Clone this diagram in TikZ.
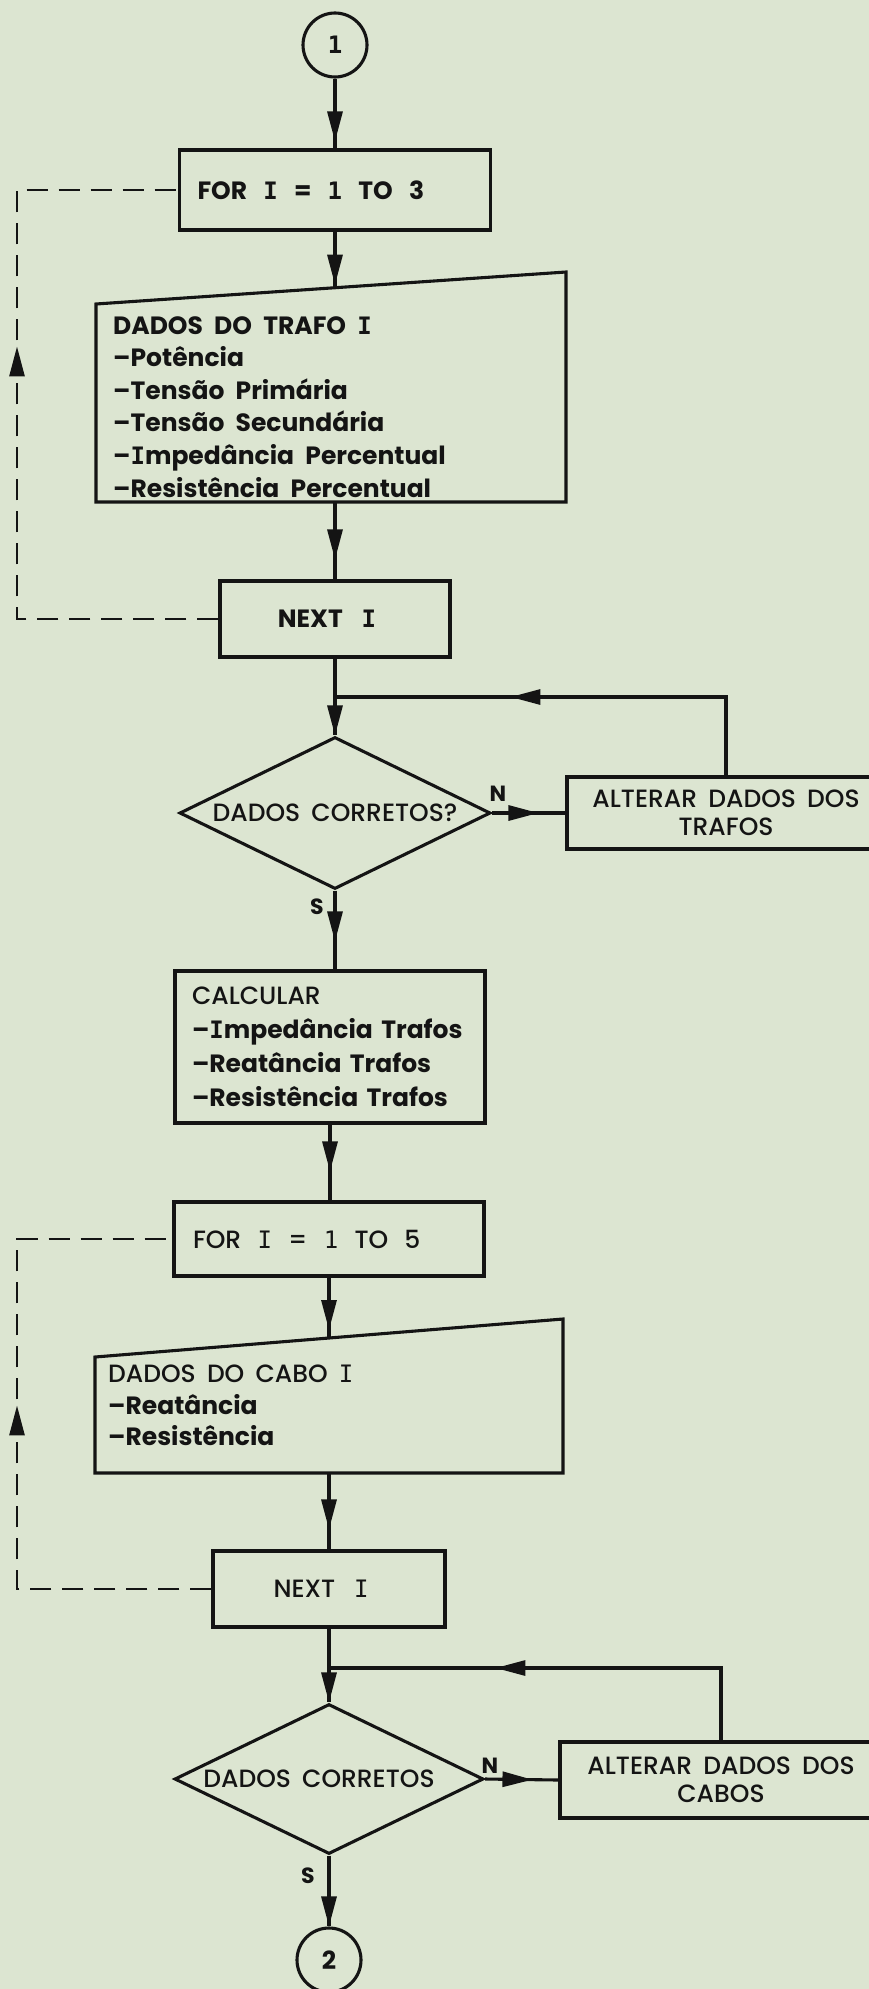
\documentclass[tikz,border=0pt]{standalone}
\usepackage{fontspec}
\setmainfont{Poppins}[UprightFont={* Medium}, BoldFont={* Bold}]
\newfontfamily\serI{DejaVu Sans Mono}[Scale=0.96]
\usetikzlibrary{arrows.meta,decorations.markings,shapes.geometric,calc}
\definecolor{bg}{RGB}{220,229,209}
\definecolor{ink}{RGB}{20,20,20}
\newcommand\Iser{{\serI I}}
\newcommand\Oneser{{\serI 1}}
\newcommand\wgap{\hspace{0.65em}}
\newcommand\fsz{\fontsize{25}{33}\selectfont\spaceskip=0.45em plus 0.1em\relax}
\newcommand\fszb{\fontsize{25}{32.6}\selectfont\bfseries\spaceskip=0.45em plus 0.1em\relax}
\newcommand\fszc{\fontsize{25}{34}\selectfont\spaceskip=0.5em plus 0.1em\relax}
\newcommand\fszd{\fontsize{25}{31.5}\selectfont\spaceskip=0.45em plus 0.1em\relax}
\newcommand\fszalt{\fontsize{25}{28.5}\selectfont\spaceskip=0.45em plus 0.1em\relax}
\begin{document}
\begin{tikzpicture}[x=1pt,y=-1pt,
  every node/.style={text=ink},
  ln/.style={draw=ink, line width=3.1pt, line join=miter},
  dashln/.style={draw=ink, line width=2.7pt, dash pattern=on 21pt off 11pt},
  box/.style={ln, rectangle, inner xsep=18pt, inner ysep=0pt, font=\fsz},
  circ/.style={ln, circle, minimum size=64pt, inner sep=0pt, font=\fontsize{25}{28}\selectfont\bfseries},
  dia/.style={ln, diamond, inner sep=0pt, shape aspect=2.05, font=\fsz},
  txt/.style={inner sep=0pt, align=left},
  lbl/.style={inner sep=0pt, font=\fontsize{22}{26}\selectfont\bfseries},
  am/.style={postaction={decorate,decoration={markings,mark=at position #1 with {\arrow{Triangle[length=30pt,width=15pt]}}}}}
]
\useasboundingbox (0,0) rectangle (869,1989);
\fill[bg] (0,0) rectangle (869,1989);

% ---------- upper part ----------
\node[circ] (c1) at (335,45) {\Oneser};
\node[box, minimum width=311pt, minimum height=80pt, text width=275pt, align=left, font=\fsz\bfseries] (for1) at (335,190)
  {FOR\wgap\Iser\wgap=\wgap\Oneser\wgap TO\wgap 3};

\draw[ln] (96,304) -- (566,272) -- (566,502) -- (96,502) -- cycle;
\coordinate (t1n) at (335,287.7);
\coordinate (t1s) at (335,502);
\node[txt, anchor=north west, font=\fszb] (t1txt) at (113,316)
  {DADOS DO TRAFO \Iser\\ –Potência\\ –Tensão Primária\\ –Tensão Secundária\\ –\Iser mpedância Percentual\\ –Resistência Percentual};

\node[box, minimum width=230pt, minimum height=76pt, font=\fszb] (next1) at (335,619) {NEXT\hspace{0.75em}\Iser\hspace*{16pt}};
\coordinate (j1) at (335,697);
\node[dia, minimum width=311pt, minimum height=152pt] (d1) at (335,813) {DADOS CORRETOS?};
\node[box, minimum width=318pt, minimum height=72pt, inner xsep=0pt, align=center, font=\fszalt] (alt1) at (726,813) {ALTERAR DADOS DOS\\TRAFOS};
\node[lbl] (n1) at (498,794) {N};
\node[lbl] (s1) at (317,907) {S};

\node[box, minimum width=310pt, minimum height=152pt, text width=276pt, inner xsep=17pt, align=left, font=\fszc] (calc) at (330,1047)
  {CALCULAR\\ {\bfseries –\Iser mpedância Trafos}\\ {\bfseries –Reatância Trafos}\\ {\bfseries –Resistência Trafos}};

% ---------- lower part ----------
\node[box, minimum width=310pt, minimum height=74pt, text width=272pt, inner xsep=19pt, align=left, font=\fsz] (for2) at (329,1239)
  {FOR\wgap\Iser\wgap=\wgap\Oneser\wgap TO\wgap 5};

\draw[ln] (95,1357) -- (563,1319) -- (563,1473) -- (95,1473) -- cycle;
\coordinate (t2n) at (329,1338);
\coordinate (t2s) at (329,1473);
\node[txt, anchor=north west, font=\fszd] (t2txt) at (108,1365)
  {DADOS DO CABO \Iser\\ {\bfseries –Reatância}\\ {\bfseries –Resistência}};

\node[box, minimum width=232pt, minimum height=76pt] (next2) at (329,1589) {NEXT\hspace{0.75em}\Iser\hspace*{16pt}};
\coordinate (j2) at (329,1668);
\node[dia, minimum width=309pt, minimum height=150pt] (d2) at (329,1779) {DADOS CORRETOS\hspace*{20pt}};
\node[box, minimum width=322pt, minimum height=76pt, inner xsep=0pt, align=center, font=\fszalt] (alt2) at (721,1780) {ALTERAR DADOS DOS\\CABOS};
\node[lbl] (n2) at (490,1766) {N};
\node[lbl] (s2) at (308,1876) {S};
\node[circ] (c2) at (329,1960) {2};

% ---------- connectors ----------
\draw[ln, am=-7pt] (c1.south) -- (for1.north);
\draw[ln, am=-3pt] (for1.south) -- (t1n);
\draw[ln, am=-20pt] (t1s) -- (next1.north);
\draw[ln, am=1] (next1.south) -- (d1.north);
\draw[ln, am=-27pt] (d1.east) -- (alt1.west);
\draw[ln, am=294pt] (alt1.north) |- (j1);
\draw[ln, am=-28pt] (d1.south) -- (d1.south |- calc.north);
\draw[ln, am=-29pt] (calc.south) -- (calc.south |- for2.north);
\draw[ln, am=-8pt] (for2.south) -- (t2n);
\draw[ln, am=-20pt] (t2s) -- (next2.north);
\draw[ln, am=1] (next2.south) -- (d2.north);
\draw[ln, am=-26pt] (d2.east) -- (alt2.west);
\draw[ln, am=298pt] (alt2.north) |- (j2);
\draw[ln, am=1] (d2.south) -- (c2.north);

\coordinate (l1) at (17,190);
\coordinate (l2) at (17,1239);
\draw[dashln, am=474pt] (next1.west) -| (l1) -- (for1.west);
\draw[dashln, am=378pt] (next2.west) -| (l2) -- (for2.west);
\end{tikzpicture}
\end{document}
